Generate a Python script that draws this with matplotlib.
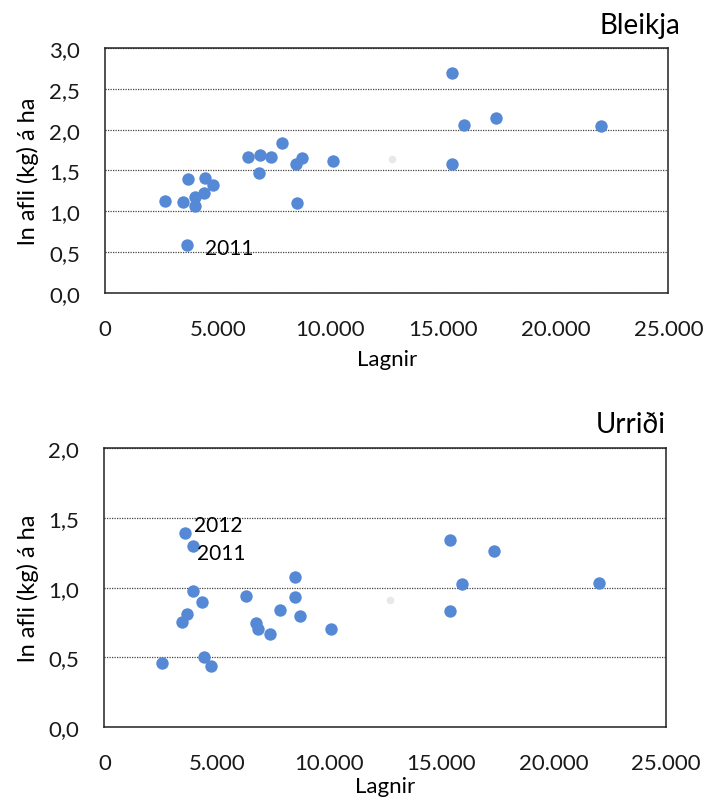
import numpy as np
import matplotlib.pyplot as plt
from matplotlib.ticker import FuncFormatter

plt.rcParams['font.family'] = ['Lato', 'DejaVu Sans']

# Bleikja (arctic charr): lagnir vs ln afli (kg) á ha
bleikja_x = [2640, 3440, 3620, 3680, 3990, 3990, 4390, 4450, 4790, 6330, 6840, 6880,
             7350, 7870, 8480, 8530, 8720, 10110, 15380, 15410, 15930, 17340, 22020]
bleikja_y = [1.12, 1.11, 0.59, 1.39, 1.18, 1.06, 1.22, 1.41, 1.32, 1.66, 1.47, 1.69,
             1.67, 1.84, 1.58, 1.10, 1.65, 1.61, 2.69, 1.58, 2.06, 2.14, 2.05]
bleikja_grey = ([12720], [1.64])

# Urriði (brown trout)
urridi_x = [2580, 3440, 3570, 3660, 3930, 3960, 4330, 4420, 4730, 6300, 6760, 6840,
            7350, 7830, 8470, 8470, 8690, 10080, 15360, 15360, 15900, 17320, 21990]
urridi_y = [0.46, 0.755, 1.39, 0.81, 1.30, 0.975, 0.90, 0.50, 0.44, 0.94, 0.745, 0.70,
            0.67, 0.84, 1.08, 0.93, 0.80, 0.70, 1.34, 0.83, 1.025, 1.26, 1.03]
urridi_grey = ([12720], [0.915])

x_ticks = [0, 5000, 10000, 15000, 20000, 25000]

blue = '#5589D6'
grey = '#E8E8E8'


def thousands(v, pos):
    return f"{int(v):,}".replace(",", ".")


def comma(v, pos):
    return f"{v:.1f}".replace(".", ",")


def setup(ax, ymax, title, title_x, xpad):
    ax.set_xlim(0, 25000)
    ax.set_ylim(0, ymax)
    ax.set_xticks(x_ticks)
    ax.set_yticks(np.arange(0, ymax + 0.01, 0.5))
    ax.xaxis.set_major_formatter(FuncFormatter(thousands))
    ax.yaxis.set_major_formatter(FuncFormatter(comma))
    ax.tick_params(length=0, labelsize=16, colors='#1a1a1a')
    ax.tick_params(axis='x', pad=19)
    ax.tick_params(axis='y', pad=18)
    ax.grid(axis='y', linestyle=(0, (1, 1)), color='#444444', lw=0.9)
    ax.set_axisbelow(True)
    for s in ax.spines.values():
        s.set_color('#222222')
        s.set_linewidth(1.1)
    ax.set_xlabel('Lagnir', fontsize=16, labelpad=xpad)
    ax.set_ylabel('ln afli (kg) á ha', fontsize=17, labelpad=7)
    ax.text(title_x, 1.04, title, transform=ax.transAxes, ha='right', va='bottom',
            fontsize=20)


fig = plt.figure(figsize=(7.05, 8.03), dpi=100)
ax1 = fig.add_axes([0.149, 0.634, 0.799, 0.305])
ax2 = fig.add_axes([0.148, 0.0934, 0.797, 0.347])

ax1.scatter(bleikja_x, bleikja_y, s=80, color=blue, zorder=3, linewidths=0)
ax1.scatter(*bleikja_grey, s=30, color=grey, zorder=3, linewidths=0)
setup(ax1, 3.0, 'Bleikja', 1.022, 7)
ax1.annotate('2011', (bleikja_x[2], bleikja_y[2]), xytext=(13, -2),
             textcoords='offset points', fontsize=15, va='center', ha='left')

ax2.scatter(urridi_x, urridi_y, s=80, color=blue, zorder=3, linewidths=0)
ax2.scatter(*urridi_grey, s=30, color=grey, zorder=3, linewidths=0)
setup(ax2, 2.0, 'Urriði', 1.0, 2)
ax2.annotate('2012', (urridi_x[2], urridi_y[2]), xytext=(7, 6),
             textcoords='offset points', fontsize=15, va='center', ha='left')
ax2.annotate('2011', (urridi_x[4], urridi_y[4]), xytext=(3, -5),
             textcoords='offset points', fontsize=15, va='center', ha='left')

fig.savefig('out.png', dpi=100)
